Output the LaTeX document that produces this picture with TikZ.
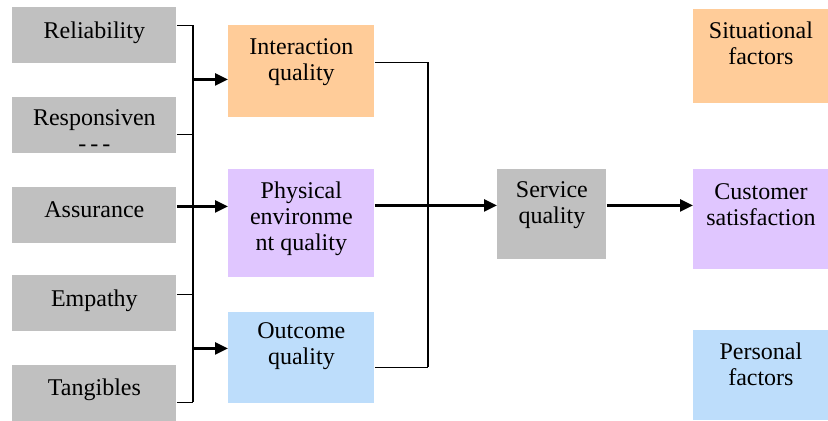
\documentclass[tikz,border=0pt]{standalone}
\usepackage{fontspec}
\setmainfont{Liberation Serif}
\usetikzlibrary{arrows.meta}
\definecolor{boxgray}{RGB}{192,192,192}
\definecolor{boxorange}{RGB}{255,204,153}
\definecolor{boxlilac}{RGB}{224,198,255}
\definecolor{boxblue}{RGB}{189,221,251}
\tikzset{
  dimbox/.style={anchor=north west, inner sep=0pt, minimum width=82pt, minimum height=28pt, fill=boxgray},
  qualbox/.style={anchor=north west, inner sep=0pt, minimum width=73pt, fill=#1},
  factbox/.style={anchor=north west, inner sep=0pt, minimum width=67.5pt, fill=#1},
  txt/.style={anchor=north, inner sep=0pt, align=center, font=\fontsize{12}{13}\selectfont, execute at begin node=\strut},
  link/.style={line width=0.7pt},
  arr/.style={line width=1.3pt, -{Triangle[length=6.5pt,width=6pt]}}
}
\begin{document}
\begin{tikzpicture}[x=0.5pt,y=-0.5pt]
	\useasboundingbox (0,0) rectangle (828,420);
	% dimensions
	\node[dimbox] (rel) at (12,7) {};
	\node[dimbox] (res) at (12,97) {};
	\node[dimbox] (ass) at (12,187) {};
	\node[dimbox] (emp) at (12,275) {};
	\node[dimbox] (tan) at (12,365) {};
	\node[txt] (rel-t) at ([yshift=-6.4pt]rel.north) {Reliability};
	\node[txt] (res-t) at ([yshift=-6.2pt]res.north) {Responsiven\\-\,-\,-};
	\node[txt] (ass-t) at ([yshift=-5.8pt]ass.north) {Assurance};
	\node[txt] (emp-t) at ([yshift=-6.2pt]emp.north) {Empathy};
	\node[txt] (tan-t) at ([yshift=-5.8pt]tan.north) {Tangibles};
	% quality
	\node[qualbox=boxorange, minimum height=46pt] (int) at (228,25) {};
	\node[qualbox=boxlilac, minimum height=54pt] (phy) at (228,169) {};
	\node[qualbox=boxblue, minimum height=45.5pt] (out) at (228,312) {};
	\node[txt] (int-t) at ([yshift=-6.4pt]int.north) {Interaction\\quality};
	\node[txt] (phy-t) at ([yshift=-6.2pt]phy.north) {Physical\\environme\\nt quality};
	\node[txt] (out-t) at ([yshift=-5pt]out.north) {Outcome\\quality};
	\node[dimbox, minimum width=54.5pt, minimum height=45pt] (ser) at (497,169) {};
	\node[txt] (ser-t) at ([yshift=-6.2pt]ser.north) {Service\\quality};
	% factors
	\node[factbox=boxorange, minimum height=47pt] (sit) at (693,9) {};
	\node[factbox=boxlilac, minimum height=50pt] (cus) at (693,169) {};
	\node[factbox=boxblue, minimum height=45pt] (per) at (693,330) {};
	\node[txt] (sit-t) at ([yshift=-6pt]sit.north) {Situational\\factors};
	\node[txt] (cus-t) at ([yshift=-7pt]cus.north) {Customer\\satisfaction};
	\node[txt] (per-t) at ([yshift=-6.4pt]per.north) {Personal\\factors};
	% left bus
	\draw[link] ([yshift=5pt]rel.east) -- ++(8pt,0) coordinate (busl-top);
	\draw[link] ([yshift=-4.5pt]tan.east) -- ++(8pt,0) coordinate (busl-bot);
	\draw[link] (busl-top) -- (busl-bot);
	\draw[link] ([yshift=-4.5pt]res.east) -- ++(8pt,0);
	\draw[link] ([yshift=4.5pt]emp.east) -- ++(8pt,0);
	\coordinate (int-in) at ([yshift=-4pt]int.west);
	\coordinate (phy-in) at ([yshift=4.5pt]ass.east -| phy.west);
	\coordinate (out-in) at ([yshift=4.75pt]out.west);
	\draw[arr] (busl-top |- int-in) -- (int-in);
	\draw[arr] ([yshift=4.5pt]ass.east) -- (phy-in);
	\draw[arr] (busl-top |- out-in) -- (out-in);
	% right bus
	\draw[link] ([yshift=4.5pt]int.east) -- ++(26.5pt,0) coordinate (busr-top);
	\draw[link] ([yshift=-4.75pt]out.east) -- ++(26.5pt,0) coordinate (busr-bot);
	\draw[link] (busr-top) -- (busr-bot);
	\coordinate (ser-in) at ([yshift=4.5pt]ser.west);
	\coordinate (cus-in) at ([yshift=7pt]cus.west);
	\draw[arr] (phy.east |- ser-in) -- (ser-in);
	\draw[arr] (ser.east |- cus-in) -- (cus-in);
\end{tikzpicture}
\end{document}
